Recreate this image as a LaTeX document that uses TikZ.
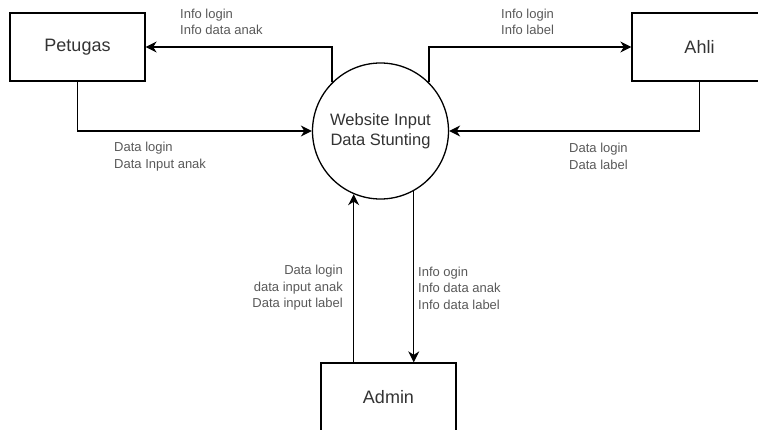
\documentclass[tikz,border=0pt]{standalone}
\usepackage{fontspec}
\setmainfont{Liberation Sans}
\usetikzlibrary{arrows.meta}

\tikzset{
  entity/.style={draw, line width=1.3pt, minimum width=135pt, minimum height=68pt,
    font=\fontsize{18}{22}\selectfont, text=black!80},
  proc/.style={circle, draw, line width=1.3pt, minimum size=136pt, align=center,
    font=\fontsize{16.5}{20}\selectfont, text=black!80},
  flow/.style={line width=1.3pt, -{Stealth[length=11pt,width=11pt,inset=3.5pt]}},
  lbl/.style={align=left, inner sep=0pt, font=\fontsize{13}{16.5}\selectfont, text=black!65},
}

\begin{document}
\begin{tikzpicture}[x=1pt, y=-1pt]
  \useasboundingbox (0,0) rectangle (758,430);
  \clip (0,0) rectangle (758,430);

  % process and external entities
  \node[proc] (web) at (380.5,131) {Website Input\\Data Stunting};
  \node[entity] (petugas) at (77.5,47) {Petugas};
  \node[entity] (ahli) at (699.5,47) {Ahli};
  \node[entity] (admin) at (388.5,397) {Admin};

  % flows
  \draw[flow] (web.135) |- (petugas.east);
  \draw[flow] (petugas.south) |- (web.west);
  \draw[flow] (web.45) |- (ahli.west);
  \draw[flow] (ahli.south) |- (web.east);
  \draw[flow] (admin.north -| web.247) -- (web.247);
  \draw[flow] (web.-61) -- (web.-61 |- admin.north);

  % flow labels
  \node[lbl, anchor=west] (lpetin) at (180,22) {Info login\\Info data anak};
  \node[lbl, anchor=west] (lpetout) at (114,156.5) {Data login\\Data Input anak};
  \node[lbl, anchor=west] (lahliin) at (501,22) {Info login\\Info label};
  \node[lbl, anchor=west] (lahliout) at (569,156.5) {Data login\\Data label};
  \node[lbl, anchor=east, align=right] (ladmout) at (343,288) {Data login\\data input anak\\Data input label};
  \node[lbl, anchor=west] (ladmin) at (418,288) {Info ogin\\Info data anak\\Info data label};
\end{tikzpicture}
\end{document}
